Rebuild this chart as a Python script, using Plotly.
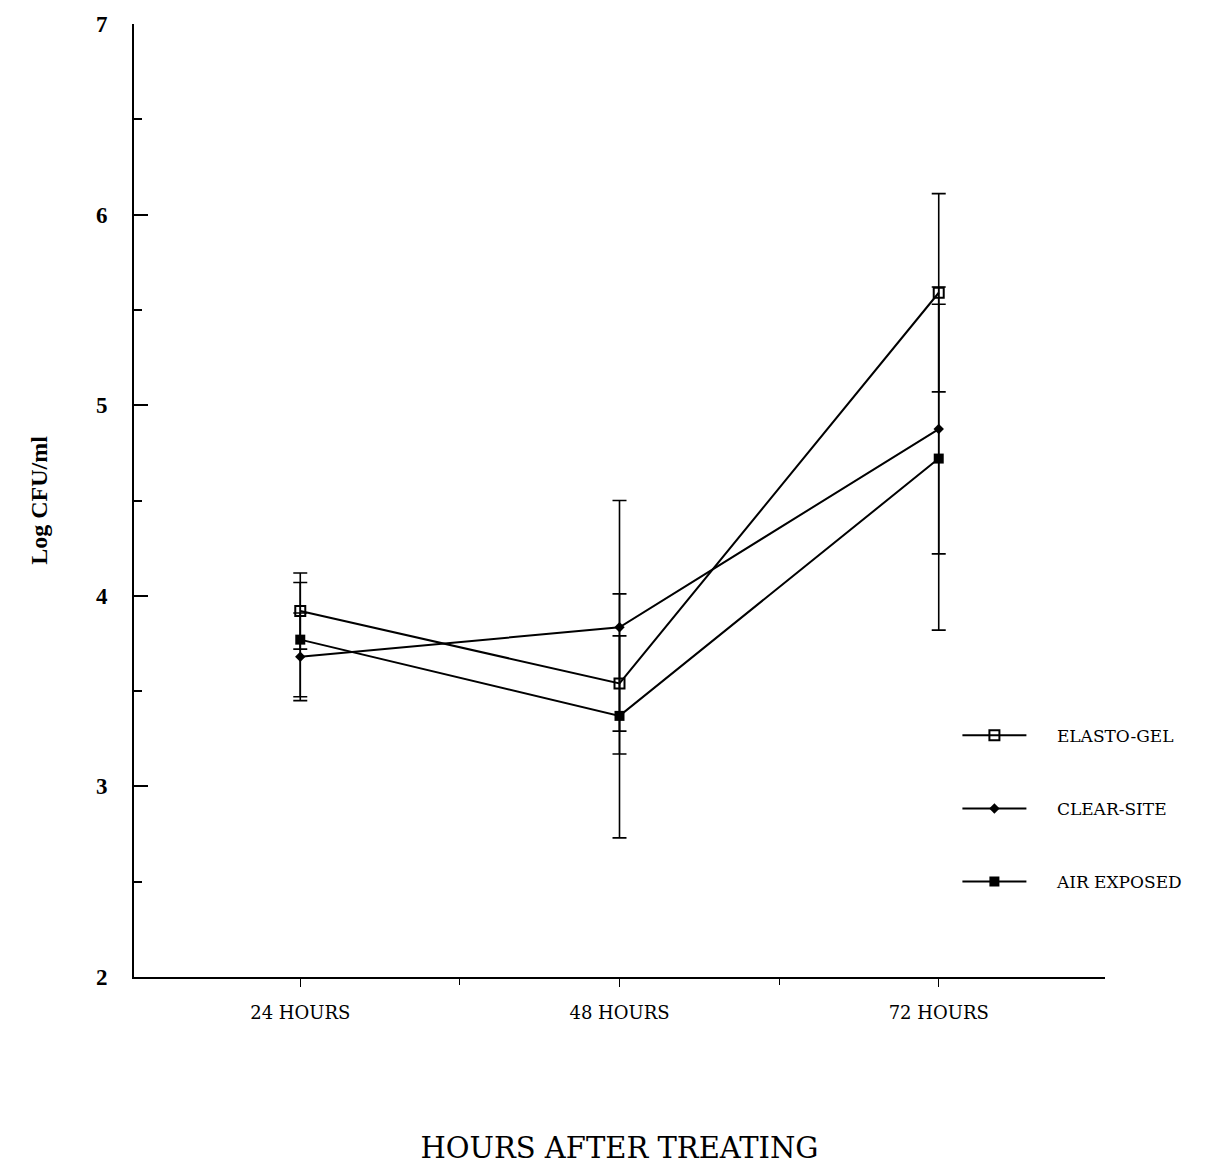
import plotly.graph_objects as go

hours = [24, 48, 72]
hour_labels = ["24 HOURS", "48 HOURS", "72 HOURS"]

elasto_gel = [3.92, 3.54, 5.59]
elasto_gel_err = [0.20, 0.25, 0.52]

clear_site = [3.68, 3.835, 4.875]
clear_site_err = [0.23, 0.665, 0.655]

air_exposed = [3.77, 3.37, 4.72]
air_exposed_err = [0.30, 0.64, 0.90]

serif = "Liberation Serif, DejaVu Serif, serif"
wide_serif = "DejaVu Serif, Liberation Serif, serif"

fig = go.Figure()

series = [
    ("ELASTO-GEL", elasto_gel, elasto_gel_err,
     dict(symbol="square-open", size=10, color="black", line=dict(width=2, color="black"))),
    ("CLEAR-SITE", clear_site, clear_site_err,
     dict(symbol="diamond", size=8, color="black")),
    ("AIR EXPOSED", air_exposed, air_exposed_err,
     dict(symbol="square", size=10, color="black")),
]

for i, (name, vals, errs, marker) in enumerate(series):
    fig.add_trace(go.Scatter(
        x=hours, y=vals, name="\u2002\u2002\u2002" + name, mode="lines+markers",
        line=dict(color="black", width=2),
        marker=marker,
        error_y=dict(type="data", array=errs, visible=True, color="black",
                     thickness=1.6, width=7),
        legendgroup=f"g{i}",
    ))

fig.update_layout(
    width=1222, height=1171,
    margin=dict(l=134, r=117, t=20, b=194),
    paper_bgcolor="white", plot_bgcolor="white",
    font=dict(family=serif, color="black"),
    showlegend=True,
    legend=dict(x=0.848, y=0.272, xanchor="left", yanchor="top",
                font=dict(family=wide_serif, size=17, color="black"),
                tracegroupgap=48, itemwidth=64, bgcolor="rgba(0,0,0,0)"),
    xaxis=dict(
        range=[11.5, 84.5], tickvals=hours, ticktext=hour_labels,
        showline=True, linecolor="black", linewidth=2, showgrid=False, zeroline=False,
        ticks="outside", ticklen=8, tickwidth=1, tickcolor="black",
        ticklabelstandoff=10,
        tickfont=dict(family=wide_serif, size=18, color="black"),
        minor=dict(tickvals=[36, 60], ticks="outside", ticklen=6, tickcolor="black"),
        title=dict(text="HOURS AFTER TREATING", font=dict(family=wide_serif, size=29, color="black"),
                   standoff=116),
    ),
    yaxis=dict(
        range=[2, 7], dtick=1, tick0=2,
        showline=True, linecolor="black", linewidth=2, showgrid=False, zeroline=False,
        ticks="inside", ticklen=14, tickwidth=1.5, tickcolor="black",
        ticklabelstandoff=20,
        tickfont=dict(family=serif, size=23, color="black", weight="bold"),
        minor=dict(dtick=0.5, ticks="inside", ticklen=8, tickcolor="black"),
        title=dict(text="Log CFU/ml", font=dict(family=serif, size=24, color="black", weight="bold"),
                   standoff=42),
    ),
)

fig.write_html("out.html")
